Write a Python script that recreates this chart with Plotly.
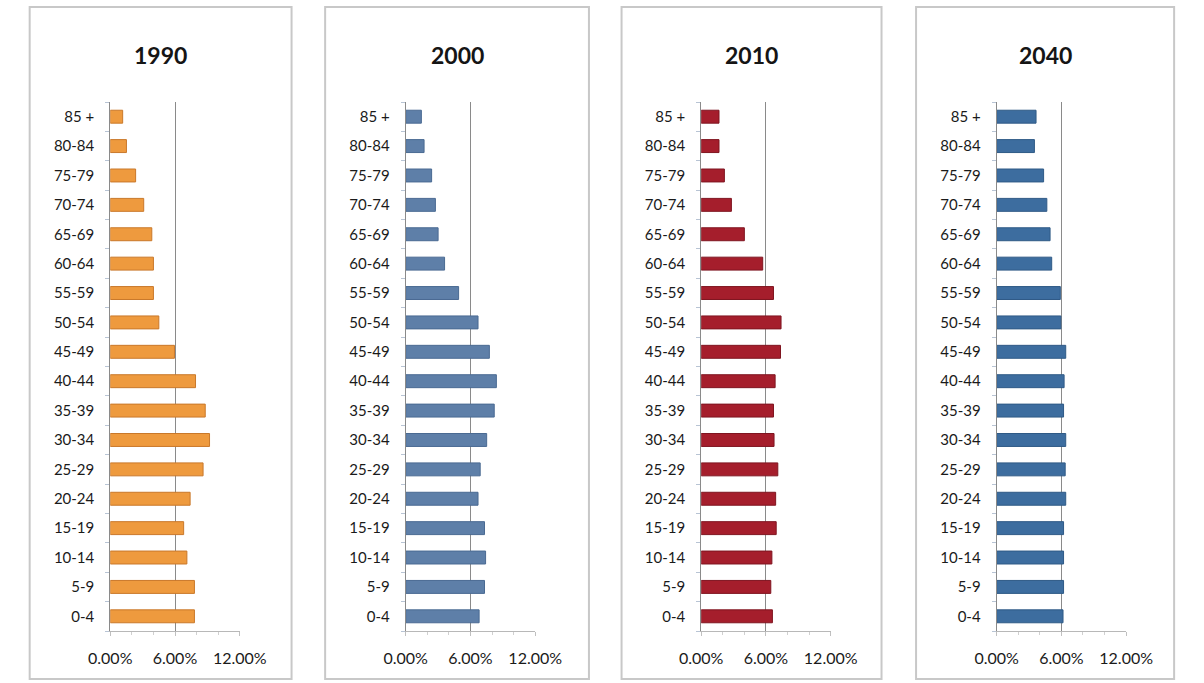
import plotly.graph_objects as go

# ---- data ----
age_groups = ["0-4", "5-9", "10-14", "15-19", "20-24", "25-29", "30-34", "35-39",
              "40-44", "45-49", "50-54", "55-59", "60-64", "65-69", "70-74",
              "75-79", "80-84", "85 +"]
years = ["1990", "2000", "2010", "2040"]

share_1990 = [7.8, 7.8, 7.1, 6.8, 7.4, 8.6, 9.2, 8.8, 7.9, 5.95, 4.5, 4.0, 4.0, 3.85, 3.1, 2.35, 1.5, 1.15]
share_2000 = [6.8, 7.3, 7.4, 7.3, 6.7, 6.9, 7.5, 8.2, 8.4, 7.75, 6.7, 4.9, 3.6, 3.0, 2.75, 2.4, 1.7, 1.45]
share_2010 = [6.6, 6.45, 6.55, 6.95, 6.9, 7.1, 6.75, 6.7, 6.85, 7.35, 7.4, 6.7, 5.7, 4.0, 2.8, 2.15, 1.65, 1.65]
share_2040 = [6.15, 6.2, 6.2, 6.2, 6.4, 6.35, 6.4, 6.2, 6.25, 6.4, 5.95, 5.9, 5.1, 4.95, 4.65, 4.35, 3.5, 3.65]

x_tick_vals = [0, 6, 12]
x_tick_text = ["0.00%", "6.00%", "12.00%"]

series = [share_1990, share_2000, share_2010, share_2040]
fill_colors = ["#EE9A3E", "#5E7FA8", "#A51E2C", "#3D6D9F"]
edge_colors = ["#C9782A", "#4A6A92", "#7F1520", "#2F5A86"]

# ---- layout geometry (pixels) ----
W, H = 1204, 683
panel_left = [8, 316, 625, 932]
panel_right = [281, 591, 896, 1201]
panel_top, panel_bottom = 7, 679
plot_left = [92, 400, 708, 1016]
plot_width = 135
plot_top, plot_bottom = 102, 631

FONT = "Lato, 'Open Sans', sans-serif"

fig = go.Figure()
shapes = []
annotations = []

for i, (yr, vals) in enumerate(zip(years, series)):
    ax = "" if i == 0 else str(i + 1)
    fig.add_trace(go.Bar(
        x=vals, y=age_groups, orientation="h",
        marker=dict(color=fill_colors[i], line=dict(color=edge_colors[i], width=1)),
        xaxis="x" + ax, yaxis="y" + ax, showlegend=False,
        hovertemplate="%{y}: %{x:.2f}%<extra>" + yr + "</extra>",
    ))
    x0 = plot_left[i] / W
    x1 = (plot_left[i] + plot_width) / W
    y0 = 1 - plot_bottom / H
    y1 = 1 - plot_top / H
    fig.update_layout(**{
        "xaxis" + ax: dict(
            domain=[x0, x1], range=[0, 12], anchor="y" + ax,
            tickvals=x_tick_vals, ticktext=x_tick_text,
            showgrid=True, gridcolor="#8a8a8a", gridwidth=1,
            zeroline=False, showline=True, linecolor="#b8b8b8", linewidth=1,
            ticks="outside", ticklen=4, tickcolor="#c0c0c0",
            minor=dict(dtick=2, ticks="outside", ticklen=3, tickcolor="#d0d0d0", showgrid=False),
            tickfont=dict(family=FONT, size=16, color="#1a1a1a"),
            ticklabelstandoff=9, fixedrange=True,
        ),
        "yaxis" + ax: dict(
            domain=[y0, y1], anchor="x" + ax, type="category",
            categoryorder="array", categoryarray=age_groups,
            range=[-0.5, len(age_groups) - 0.5],
            showgrid=False, zeroline=False,
            showline=True, linecolor="#8a8a8a", linewidth=1,
            ticks="outside", ticklen=4, tickcolor="#b8c4d4", tickson="boundaries",
            tickfont=dict(family=FONT, size=15, color="#1a1a1a"),
            ticklabelstandoff=12, fixedrange=True,
        ),
    })
    shapes.append(dict(
        type="rect", xref="paper", yref="paper",
        x0=panel_left[i] / W, x1=panel_right[i] / W,
        y0=1 - panel_bottom / H, y1=1 - panel_top / H,
        line=dict(color="#c8c8c8", width=2), fillcolor="rgba(0,0,0,0)", layer="below",
    ))
    annotations.append(dict(
        text="<b>" + yr + "</b>", xref="paper", yref="paper",
        x=(panel_left[i] + panel_right[i]) / 2 / W, y=1 - 55 / H,
        xanchor="center", yanchor="middle", showarrow=False,
        font=dict(family=FONT, size=23, color="#151515"),
    ))

fig.update_layout(
    width=W, height=H, margin=dict(l=0, r=0, t=0, b=0),
    paper_bgcolor="white", plot_bgcolor="white",
    bargap=0.56, shapes=shapes, annotations=annotations,
    font=dict(family=FONT),
)

fig.write_html("out.html")
